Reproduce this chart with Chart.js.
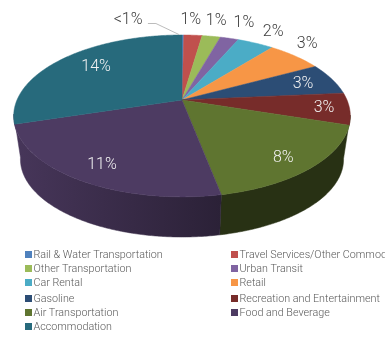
<!DOCTYPE html>
<html>
<head>
<meta charset="utf-8">
<title>Spending by category</title>
<script src="https://cdn.jsdelivr.net/npm/chart.js@4"></script>
<style>
    html, body { margin: 0; padding: 0; background: #fff; }
    #wrap { width: 385px; height: 339px; overflow: hidden; }
</style>
</head>
<body>
<div id="wrap"><canvas id="pieChart" width="385" height="339"></canvas></div>
<script>
const categories = ['Rail & Water Transportation', 'Travel Services/Other Commodities', 'Other Transportation', 'Urban Transit',
    'Car Rental', 'Retail', 'Gasoline', 'Recreation and Entertainment', 'Air Transportation', 'Food and Beverage', 'Accommodation'];
const shares = [0.1, 1, 1, 1, 2, 3, 3, 3, 8, 11, 14];
const shareLabels = ['<1%', '1%', '1%', '1%', '2%', '3%', '3%', '3%', '8%', '11%', '14%'];
const colors = ['#4F81BD', '#C0504D', '#9BBB59', '#8064A2', '#4BACC6', '#F79646', '#2C4D75', '#772C2A', '#5F7530', '#4D3B62', '#276A7C'];

// label placement on the pie plane: radius (1 = rim) and angle shift in degrees
const labelRadius = [1.354, 1.29, 1.295, 1.315, 1.243, 1.218, 0.793, 0.85, 0.844, 0.827, 0.733];
const labelShift = [-18, -1.6, -0.7, 0.9, 1.1, -3.9, 1.1, 0.5, 2.3, -0.7, 2.7];

// only the two front slices show a side wall, each one runs on past its own
// angle (degrees) up to the silhouette of the disc
const walls = [
    { slice: 8, padStart: 7, padEnd: 0, left: .42, right: .42 },
    { slice: 9, padStart: 0, padEnd: 7, left: .92, right: .56 }
];

// perspective of the tilted disc
const view = { x: 182, y: 100, a: 165, b: 77.8, p: 0.197, floorY: 144, floorScale: 0.96 };

function project(theta, r, floor) {
    const X = r * Math.sin(theta), Y = -r * Math.cos(theta);
    const w = 1 - view.p * Y;
    const s = floor ? view.floorScale : 1;
    return { x: view.x + s * view.a * X / w, y: (floor ? view.floorY : view.y) + s * view.b * Y / w };
}

function shade(hex, k) {
    const n = parseInt(hex.slice(1), 16);
    return `rgb(${Math.round((n >> 16) * k)},${Math.round(((n >> 8) & 255) * k)},${Math.round((n & 255) * k)})`;
}

function rimPoints(a0, a1, floor) {
    const steps = Math.max(2, Math.ceil((a1 - a0) / 0.01));
    const pts = [];
    for (let i = 0; i <= steps; i++) pts.push(project(a0 + (a1 - a0) * i / steps, 1, floor));
    return pts;
}

function fillPath(ctx, pts, fill) {
    ctx.beginPath();
    pts.forEach((p, i) => i ? ctx.lineTo(p.x, p.y) : ctx.moveTo(p.x, p.y));
    ctx.closePath();
    ctx.fillStyle = fill;
    ctx.strokeStyle = fill;
    ctx.lineWidth = 0.5;
    ctx.lineJoin = 'round';
    ctx.fill();
    ctx.stroke();
}

// slices keep the angles the pie controller worked out, only the drawing is tilted
const tiltedPie = {
    id: 'tiltedPie',
    beforeDatasetsDraw(chart) {
        const ctx = chart.ctx;
        const arcs = chart.getDatasetMeta(0).data;
        const turn = Math.PI / 2;
        const deg = Math.PI / 180;

        // side walls first, the top face hides the back of them
        walls.forEach(wall => {
            const arc = arcs[wall.slice];
            const a0 = arc.startAngle + turn - wall.padStart * deg, a1 = arc.endAngle + turn + wall.padEnd * deg;
            const top = rimPoints(a0, a1, false), bottom = rimPoints(a0, a1, true);
            const xs = top.map(p => p.x);
            const grad = ctx.createLinearGradient(Math.min(...xs), 0, Math.max(...xs), 0);
            grad.addColorStop(0, shade(colors[wall.slice], wall.left));
            grad.addColorStop(1, shade(colors[wall.slice], wall.right));
            fillPath(ctx, top.concat(bottom.reverse()), grad);
        });

        arcs.forEach((arc, i) => {
            const pts = rimPoints(arc.startAngle + turn, arc.endAngle + turn, false);
            pts.unshift({ x: view.x, y: view.y });
            fillPath(ctx, pts, colors[i]);
        });
        return false;
    },
    afterDraw(chart) {
        const ctx = chart.ctx;
        const arcs = chart.getDatasetMeta(0).data;
        const turn = Math.PI / 2;

        ctx.textAlign = 'center';
        ctx.textBaseline = 'middle';
        ctx.font = '300 16px Roboto';
        arcs.forEach((arc, i) => {
            const mid = (arc.startAngle + arc.endAngle) / 2 + turn + labelShift[i] * Math.PI / 180;
            const p = project(mid, labelRadius[i], false);
            ctx.fillStyle = labelRadius[i] > 1 ? '#404040' : '#f2f2f2';
            ctx.fillText(shareLabels[i], p.x, p.y);
        });

        // leader line of the thinnest slice
        const rail = arcs[0];
        const end = project((rail.startAngle + rail.endAngle) / 2 + turn, 1, false);
        ctx.beginPath();
        ctx.moveTo(end.x - 4, end.y - 0.5);
        ctx.lineTo(end.x - 27, end.y - 11.5);
        ctx.lineTo(end.x - 35, end.y - 11.5);
        ctx.strokeStyle = '#a6a6a6';
        ctx.lineWidth = 0.75;
        ctx.stroke();

        // legend in two columns
        const legendX = [25, 231];
        const legendY = [255, 269, 283, 299, 313, 327];
        ctx.textAlign = 'left';
        ctx.font = '300 10.75px Roboto';
        categories.forEach((name, i) => {
            const x = legendX[i % 2], y = legendY[Math.floor(i / 2)];
            ctx.fillStyle = colors[i];
            ctx.fillRect(x, y - 4, 7, 7);
            ctx.fillStyle = '#595959';
            ctx.fillText(name, x + 8.5, y);
        });
    }
};

new Chart(document.getElementById('pieChart').getContext('2d'), {
    type: 'pie',
    data: {
        labels: categories,
        datasets: [{ data: shares, backgroundColor: colors, borderWidth: 0 }]
    },
    options: {
        responsive: false,
        animation: false,
        plugins: { legend: { display: false }, tooltip: { enabled: false } }
    },
    plugins: [tiltedPie]
});
</script>
</body>
</html>
